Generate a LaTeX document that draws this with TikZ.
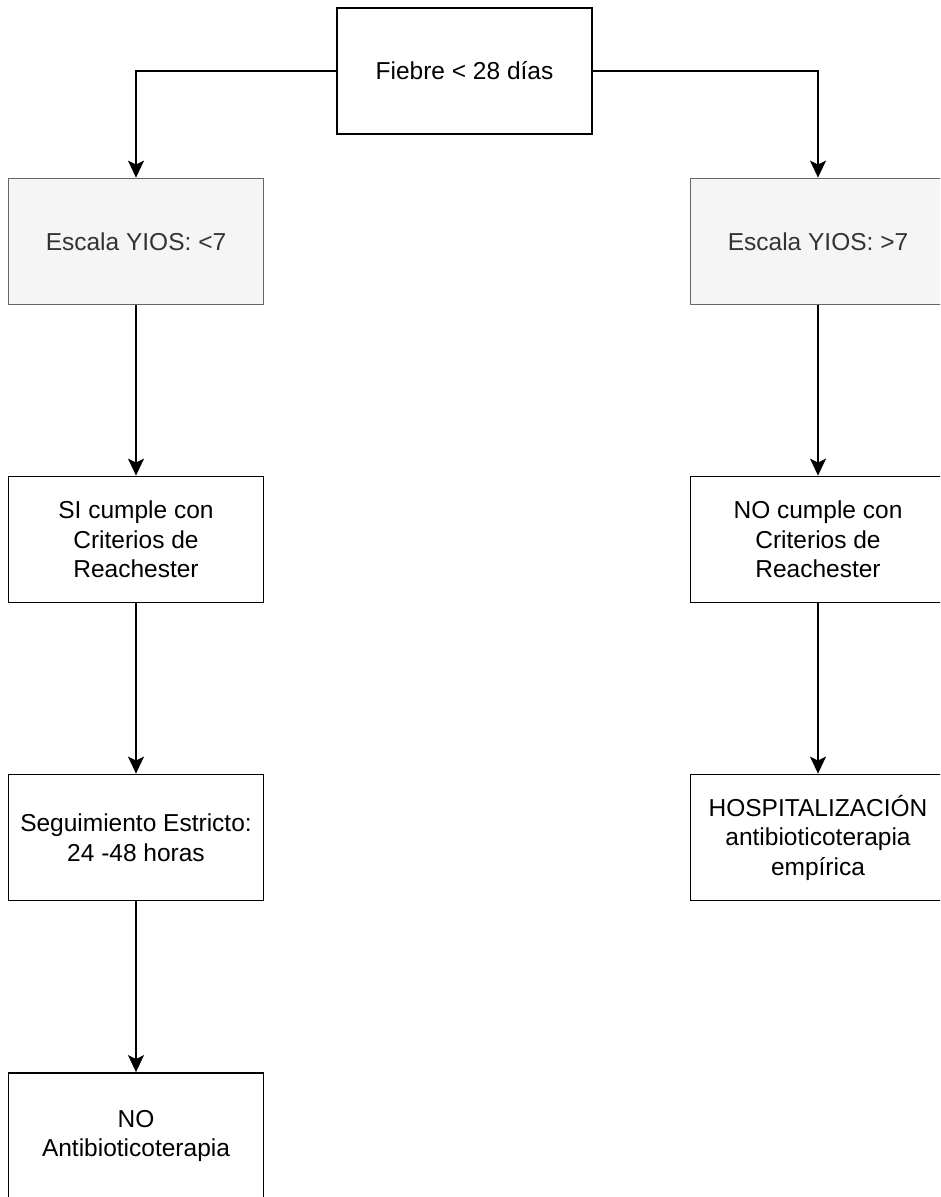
\documentclass[tikz,border=0pt]{standalone}
\usepackage{fontspec}
\setmainfont{Liberation Sans}
\usetikzlibrary{arrows.meta}
\definecolor{grayfill}{HTML}{F5F5F5}
\definecolor{graystroke}{HTML}{666666}
\definecolor{graytext}{HTML}{333333}
\tikzset{
  box/.style={draw=black, fill=white, line width=1.8pt, minimum width=255pt, minimum height=126pt,
    align=center, inner sep=2pt, font=\fontsize{24.5}{29.5}\selectfont, text=black},
  graybox/.style={box, draw=graystroke, fill=grayfill, text=graytext},
  arr/.style={line width=1.6pt, -{Stealth[length=17pt,width=16pt,inset=4pt]}}
}
\begin{document}
\begin{tikzpicture}[x=1pt,y=-1pt]
\clip (0,0) rectangle (940,1197);
\fill[white] (0,0) rectangle (940,1197);
\node[box] (top) at (464.5,71) {Fiebre < 28 días};
\node[graybox] (l1) at (136,241.5) {Escala YIOS: <7};
\node[graybox] (r1) at (818,241.5) {Escala YIOS: >7};
\node[box] (l2) at (136,539.5) {SI cumple con\\Criterios de\\Reachester};
\node[box] (r2) at (818,539.5) {NO cumple con\\Criterios de\\Reachester};
\node[box] (l3) at (136,837.5) {Seguimiento Estricto:\\24 -48 horas};
\node[box] (r3) at (818,837.5) {HOSPITALIZACIÓN\\antibioticoterapia\\empírica};
\node[box] (l4) at (136,1136) {NO\\Antibioticoterapia};
\draw[arr] (top.west) -| (l1.north);
\draw[arr] (top.east) -| (r1.north);
\draw[arr] (l1.south) -- (l2.north);
\draw[arr] (r1.south) -- (r2.north);
\draw[arr] (l2.south) -- (l3.north);
\draw[arr] (r2.south) -- (r3.north);
\draw[arr] (l3.south) -- (l4.north);
\end{tikzpicture}
\end{document}
